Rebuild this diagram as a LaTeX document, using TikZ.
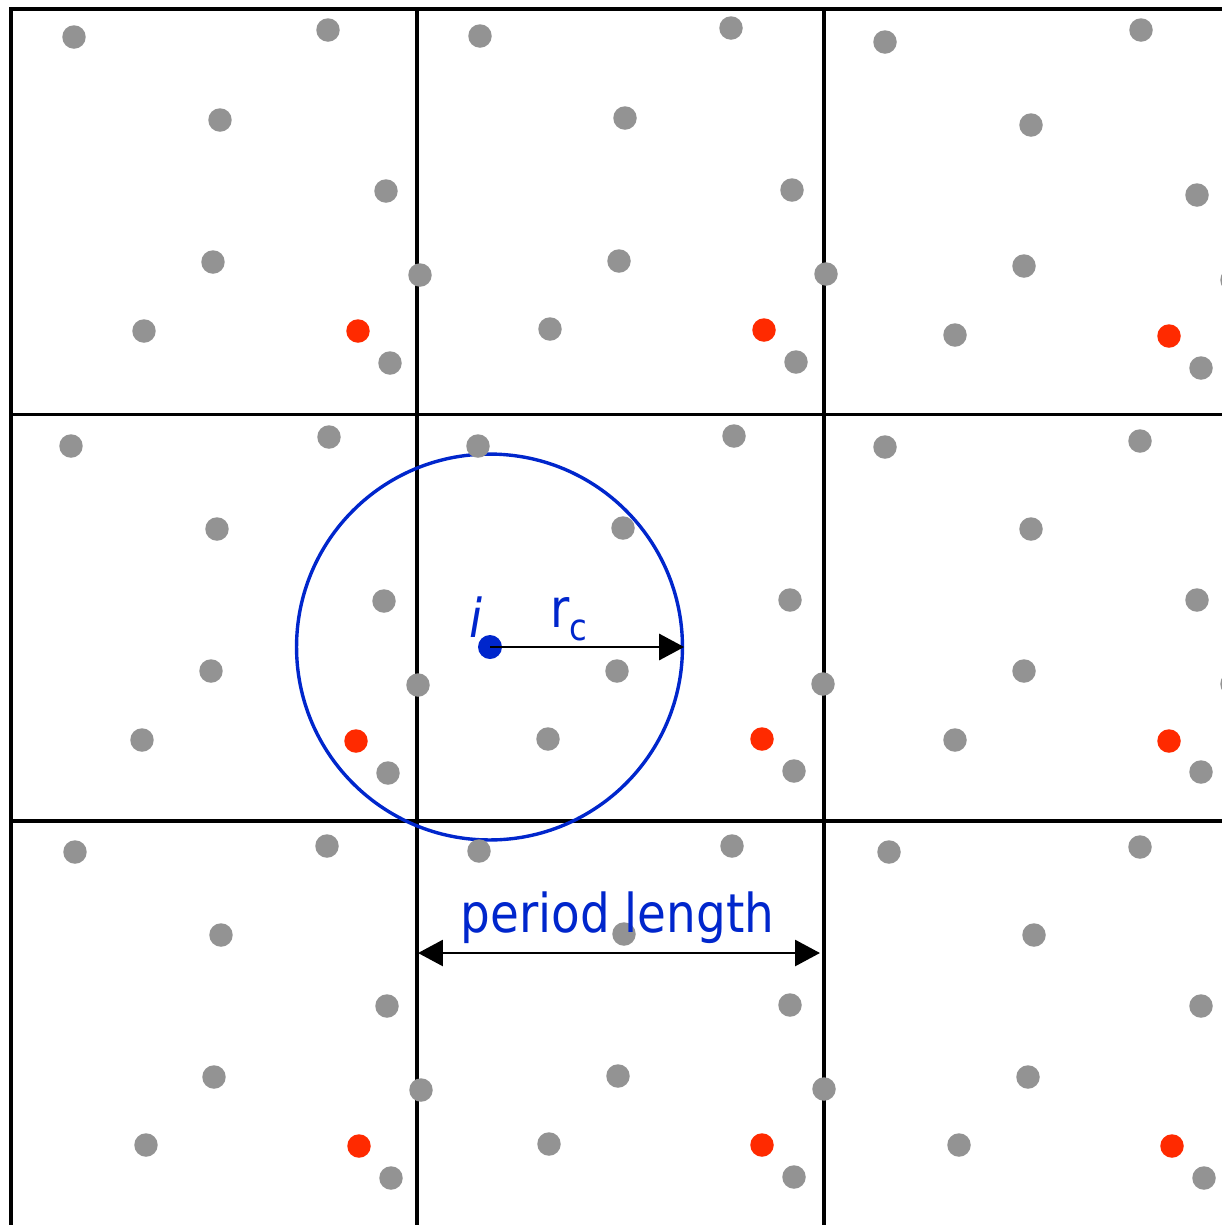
\documentclass[tikz,border=0pt]{standalone}
\usepackage{fontspec}
\setmainfont{DejaVu Sans}
\usetikzlibrary{arrows.meta}
\definecolor{dotgray}{RGB}{147,147,147}
\definecolor{dotred}{RGB}{255,42,0}
\definecolor{myblue}{RGB}{0,38,204}
\begin{document}
\begin{tikzpicture}[x=0.02cm,y=-0.02cm,
  >={Triangle[length=0.5cm,width=0.52cm]},
  gdot/.style={circle,fill=dotgray,inner sep=0pt,minimum size=0.47cm},
  rdot/.style={circle,fill=dotred,inner sep=0pt,minimum size=0.47cm},
  bdot/.style={circle,fill=myblue,inner sep=0pt,minimum size=0.48cm},
  gridline/.style={line width=0.072cm,black},
  cutoff/.style={draw=myblue,line width=0.068cm,circle,inner sep=0pt,minimum size=7.72cm},
  measure/.style={line width=0.058cm,black},
  label/.style={myblue,inner sep=0pt,xscale=0.875,font=\fontsize{30.5pt}{33pt}\selectfont}]
\useasboundingbox (0,0) rectangle (1222,1225);
\clip (0,0) rectangle (1222,1225);
% grid
\draw[gridline] (11,1240) -- (11,9) -- (1240,9);
\draw[gridline] (417,1240) -- (417,9);
\draw[gridline] (824,1240) -- (824,9);
\draw[gridline] (11,414.5) -- (1240,414.5);
\draw[gridline] (11,821) -- (1240,821);
% cutoff circle
\node[cutoff] (cut) at (489.5,647) {};
% gray dots
\foreach \px/\py [count=\k] in {
  74/37,328/30,220/120,386/191,213/262,144/331,390/363,420/275,
  480/36,731/28,625/118,792/190,619/261,550/329,796/362,826/274,
  885/42,1141/30,1031/125,1197/195,1024/266,955/335,1201/368,1232/280,
  71/446,329/437,217/529,384/601,211/671,142/740,388/773,418/685,
  478/446,734/436,623/528,790/600,617/671,548/739,794/771,823/684,
  885/447,1140/441,1031/529,1197/600,1024/671,955/740,1201/772,1232/684,
  75/852,327/846,221/935,387/1006,214/1077,146/1145,391/1178,421/1090,
  479/851,732/846,624/934,790/1005,618/1076,549/1144,794/1177,824/1089,
  889/852,1140/847,1034/935,1201/1006,1028/1077,959/1145,1204/1178}
  \node[gdot] (g\k) at (\px,\py) {};
% red dots
\foreach \px/\py [count=\k] in {
  358/331,764/330,1169/336,
  356/741,762/739,1169/741,
  359/1146,762/1145,1172/1146}
  \node[rdot] (r\k) at (\px,\py) {};
% particle i
\node[bdot] (i) at (490,647) {};
\draw[measure,->] (i.center) -- (cut.east);
% period length arrow
\coordinate (pl) at (418,953);
\coordinate (pr) at (820,953);
\draw[measure,<->] (pl) -- (pr);
% labels
\node[label,anchor=base] (plabel) at (617.5,932) {period length};
\node[label,anchor=base,font=\fontsize{30.5pt}{33pt}\selectfont\itshape] (ilabel) at (476,637) {i};
\node[label,anchor=base west] (rclabel) at (550,627) {r\raisebox{-0.25em}{\fontsize{21pt}{21pt}\selectfont c}};
\end{tikzpicture}
\end{document}
